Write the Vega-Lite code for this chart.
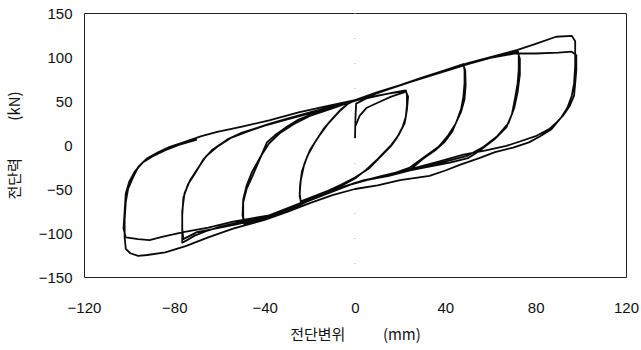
{
  "$schema": "https://vega.github.io/schema/vega-lite/v6.json",
  "width": 542,
  "height": 264,
  "autosize": {"type": "none"},
  "padding": {"left": 84, "top": 13, "right": 15, "bottom": 73},
  "background": "white",
  "config": {
    "view": {"stroke": "#222", "strokeWidth": 1},
    "axis": {
      "domain": false, "ticks": false, "grid": false, "labelFlush": false,
      "labelFont": "Liberation Sans", "labelFontSize": 15, "labelColor": "#111",
      "titleFont": "Noto Sans CJK KR", "titleFontSize": 15, "titleFontWeight": "normal", "titleColor": "#111"
    }
  },
  "datasets": {
    "main": [
      {"x":0,"y":8},{"x":0.2,"y":30},{"x":0.5,"y":47},{"x":5,"y":53},{"x":12,"y":57},{"x":18,"y":60},{"x":22.5,"y":62},
      {"x":23,"y":57},{"x":23,"y":45},{"x":22.5,"y":32},{"x":21,"y":20},{"x":18.5,"y":8},{"x":16,"y":-1},{"x":11,"y":-14},{"x":6,"y":-27},{"x":0,"y":-37},{"x":-6,"y":-45},{"x":-12,"y":-52},{"x":-18,"y":-58},{"x":-24,"y":-64},
      {"x":-24.5,"y":-58},{"x":-24.3,"y":-45},{"x":-23.5,"y":-30},{"x":-21,"y":-12},{"x":-18,"y":2},{"x":-14,"y":18},{"x":-10,"y":30},{"x":-6,"y":41},{"x":-2,"y":49},{"x":4,"y":53},{"x":10,"y":56},{"x":16,"y":59},{"x":22.5,"y":61},
      {"x":23.5,"y":55},{"x":23,"y":40},{"x":22,"y":25},{"x":19.5,"y":12},{"x":16,"y":0},{"x":10,"y":-16},{"x":5,"y":-28},{"x":0,"y":-38},{"x":-8,"y":-49},{"x":-16,"y":-58},{"x":-24,"y":-65},
      {"x":-24.5,"y":-55},{"x":-24,"y":-40},{"x":-22.5,"y":-22},{"x":-20,"y":-6},{"x":-16,"y":10},{"x":-12,"y":24},{"x":-7,"y":38},{"x":-3,"y":47},{"x":0,"y":51},
      {"x":10,"y":60},{"x":20,"y":68},{"x":30,"y":76},{"x":40,"y":85},{"x":48,"y":92},
      {"x":48.5,"y":85},{"x":48.5,"y":70},{"x":48,"y":55},{"x":47,"y":41},{"x":45,"y":27},{"x":43,"y":15},{"x":39.5,"y":3},{"x":36,"y":-5},{"x":30,"y":-16},{"x":24,"y":-29},{"x":15,"y":-35},{"x":5,"y":-40},{"x":0,"y":-43},{"x":-10,"y":-52},{"x":-20,"y":-63},{"x":-30,"y":-73},{"x":-38,"y":-81},{"x":-44,"y":-86},{"x":-49,"y":-89},
      {"x":-49.5,"y":-82},{"x":-49.5,"y":-65},{"x":-48,"y":-50},{"x":-45.5,"y":-36},{"x":-42.5,"y":-18},{"x":-39,"y":3},{"x":-35,"y":12},{"x":-30,"y":21},{"x":-25,"y":29},{"x":-18,"y":36},{"x":-10,"y":43},{"x":0,"y":50},{"x":10,"y":59},{"x":20,"y":68},{"x":30,"y":76},{"x":40,"y":85},{"x":48,"y":91},
      {"x":48.8,"y":85},{"x":49,"y":68},{"x":48.5,"y":52},{"x":47,"y":38},{"x":44.5,"y":24},{"x":41,"y":10},{"x":37,"y":-2},{"x":31,"y":-13},{"x":24,"y":-26},{"x":14,"y":-35},{"x":4,"y":-40},{"x":-6,"y":-48},{"x":-16,"y":-58},{"x":-26,"y":-70},{"x":-36,"y":-80},{"x":-43,"y":-86},{"x":-49,"y":-90},
      {"x":-49.8,"y":-80},{"x":-49.5,"y":-62},{"x":-48,"y":-46},{"x":-45.5,"y":-30},{"x":-41.5,"y":-12},{"x":-38,"y":2},{"x":-33,"y":14},{"x":-27,"y":24},{"x":-20,"y":33},{"x":-12,"y":40},{"x":-4,"y":47},{"x":4,"y":54},{"x":14,"y":63},{"x":25,"y":72},{"x":35,"y":80},{"x":45,"y":88},{"x":55,"y":96},{"x":63,"y":101},{"x":72,"y":108},
      {"x":72.5,"y":103},{"x":72.5,"y":85},{"x":72,"y":70},{"x":71,"y":55},{"x":69.5,"y":35},{"x":67,"y":20},{"x":62,"y":7},{"x":56,"y":-5},{"x":50,"y":-15},{"x":42,"y":-20},{"x":30,"y":-26},{"x":20,"y":-31},{"x":10,"y":-37},{"x":0,"y":-43},{"x":-10,"y":-52},{"x":-20,"y":-62},{"x":-30,"y":-72},{"x":-40,"y":-82},{"x":-50,"y":-87},{"x":-60,"y":-93},{"x":-66,"y":-98},{"x":-71,"y":-103},{"x":-75,"y":-109},{"x":-76.5,"y":-111},
      {"x":-76.5,"y":-100},{"x":-76.5,"y":-80},{"x":-76,"y":-60},{"x":-74,"y":-45},{"x":-71,"y":-33},{"x":-67,"y":-16},{"x":-63,"y":-5},{"x":-56,"y":7},{"x":-50,"y":14},{"x":-45,"y":18},{"x":-38,"y":24},{"x":-30,"y":30},{"x":-20,"y":37},{"x":-10,"y":44},{"x":0,"y":51},{"x":10,"y":60},{"x":20,"y":68},{"x":30,"y":76},{"x":40,"y":84},{"x":50,"y":92},{"x":60,"y":99},{"x":72,"y":106},
      {"x":73,"y":98},{"x":73,"y":80},{"x":72,"y":60},{"x":70.5,"y":42},{"x":68,"y":25},{"x":63,"y":10},{"x":57,"y":-2},{"x":50,"y":-12},{"x":40,"y":-19},{"x":30,"y":-25},{"x":18,"y":-32},{"x":8,"y":-38},{"x":-2,"y":-45},{"x":-12,"y":-55},{"x":-22,"y":-65},{"x":-32,"y":-75},{"x":-42,"y":-84},{"x":-52,"y":-90},{"x":-62,"y":-95},{"x":-70,"y":-99},{"x":-76,"y":-107},
      {"x":-76.5,"y":-95},{"x":-76.5,"y":-75},{"x":-75.5,"y":-55},{"x":-73,"y":-40},{"x":-70,"y":-28},{"x":-66,"y":-13},{"x":-61,"y":-2},{"x":-55,"y":8},{"x":-48,"y":15},{"x":-40,"y":22},{"x":-30,"y":29},{"x":-20,"y":36},{"x":-10,"y":43},{"x":0,"y":51},
      {"x":10,"y":60},{"x":20,"y":68},{"x":30,"y":77},{"x":40,"y":85},{"x":50,"y":93},{"x":60,"y":100},{"x":72,"y":108},{"x":80,"y":115},{"x":89,"y":123},{"x":96,"y":124},{"x":97.5,"y":118},
      {"x":97.5,"y":105},{"x":97.5,"y":90},{"x":97,"y":70},{"x":96,"y":56},{"x":94,"y":42},{"x":91.5,"y":32},{"x":87,"y":18},{"x":82,"y":10},{"x":77,"y":3},{"x":70,"y":-3},{"x":62,"y":-8},{"x":55,"y":-15},{"x":47,"y":-22},{"x":40,"y":-29},{"x":33,"y":-35},{"x":20,"y":-40},{"x":10,"y":-46},{"x":0,"y":-50},{"x":-10,"y":-57},{"x":-20,"y":-66},{"x":-30,"y":-76},{"x":-40,"y":-85},{"x":-54,"y":-95},{"x":-65,"y":-105},{"x":-75,"y":-115},{"x":-84,"y":-122},{"x":-92,"y":-125},{"x":-96,"y":-126},{"x":-99.5,"y":-123},{"x":-101.5,"y":-118},
      {"x":-102,"y":-105},{"x":-102,"y":-85},{"x":-101.5,"y":-65},{"x":-100.5,"y":-50},{"x":-98.5,"y":-38},{"x":-96,"y":-25},{"x":-92,"y":-15},{"x":-87,"y":-8},{"x":-82,"y":-2},{"x":-76,"y":3},{"x":-68,"y":10},{"x":-61,"y":15},{"x":-50,"y":21},{"x":-38,"y":28},{"x":-25,"y":37},{"x":-13,"y":44},{"x":0,"y":51},{"x":12,"y":61},{"x":25,"y":72},{"x":40,"y":85},{"x":50,"y":93},{"x":60,"y":99},{"x":71,"y":104},{"x":80,"y":104},{"x":90,"y":105},{"x":96,"y":106},{"x":98,"y":102},
      {"x":98,"y":85},{"x":97.5,"y":70},{"x":97,"y":56},{"x":95,"y":44},{"x":92,"y":33},{"x":89,"y":25},{"x":86,"y":18},{"x":80,"y":10},{"x":73,"y":4},{"x":67,"y":-1},{"x":58,"y":-6},{"x":48,"y":-11},{"x":37,"y":-19},{"x":25,"y":-27},{"x":12,"y":-35},{"x":0,"y":-43},{"x":-12,"y":-54},{"x":-25,"y":-67},{"x":-38,"y":-80},{"x":-54,"y":-87},{"x":-65,"y":-94},{"x":-76,"y":-99},{"x":-85,"y":-104},{"x":-91,"y":-108},{"x":-96,"y":-107},{"x":-101.5,"y":-105},
      {"x":-102.5,"y":-95},{"x":-102,"y":-75},{"x":-101.5,"y":-55},{"x":-100,"y":-42},{"x":-97.5,"y":-30},{"x":-94,"y":-20},{"x":-89,"y":-12},{"x":-84,"y":-6},{"x":-78,"y":0},{"x":-70,"y":6}
    ],
    "spike": [
      {"x":0.3,"y":22},{"x":2,"y":33},{"x":5,"y":42},{"x":10,"y":48},{"x":16,"y":55},{"x":22,"y":60}
    ],
    "zero": [{"x":0}]
  },
  "layer": [
    {
      "data": {"name": "zero"},
      "mark": {"type": "rule", "color": "#aaa", "strokeWidth": 1, "strokeDash": [1, 24]},
      "encoding": {"x": {"field": "x", "type": "quantitative"}}
    },
    {
      "data": {"name": "main"},
      "mark": {"type": "line", "color": "#0a0a0a", "strokeWidth": 1.8, "strokeJoin": "round"},
      "encoding": {
        "x": {"field": "x", "type": "quantitative", "scale": {"domain": [-120, 120], "nice": false},
          "axis": {"values": [-120, -80, -40, 0, 40, 80, 120], "labelPadding": 23, "title": "전단변위\u3000\u3000\u2002(mm)", "titlePadding": 12}},
        "y": {"field": "y", "type": "quantitative", "scale": {"domain": [-150, 150], "nice": false},
          "axis": {"values": [-150, -100, -50, 0, 50, 100, 150], "labelPadding": 12, "title": "전단력\u3000\u3000\u2002(kN)", "titlePadding": 16}},
        "order": {"value": null}
      }
    },
    {
      "data": {"name": "spike"},
      "mark": {"type": "line", "color": "#0a0a0a", "strokeWidth": 1.8, "strokeJoin": "round"},
      "encoding": {
        "x": {"field": "x", "type": "quantitative"},
        "y": {"field": "y", "type": "quantitative"},
        "order": {"value": null}
      }
    }
  ]
}
